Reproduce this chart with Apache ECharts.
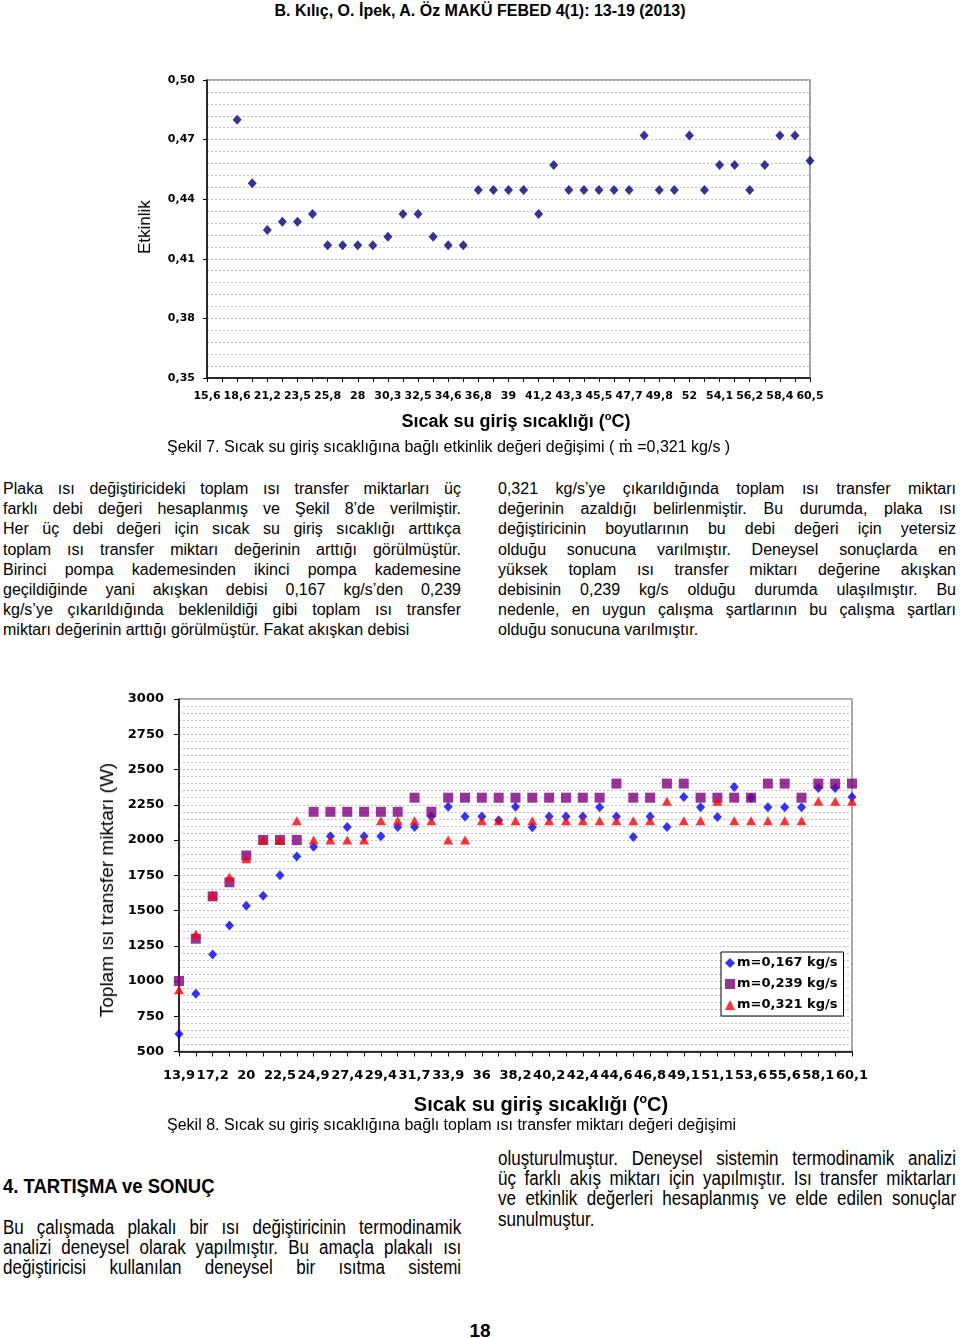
<!DOCTYPE html>
<html><head><meta charset="utf-8">
<script src="https://cdn.jsdelivr.net/npm/echarts@6/dist/echarts.min.js"></script>
<style>
html,body{margin:0;padding:0;background:#fff;}
#page{position:relative;width:960px;height:1338px;overflow:hidden;font-family:'Liberation Sans',Arial,sans-serif;color:#000;background:#fff;}
.abs{position:absolute;}
.c{transform:translate(-50%,-50%);white-space:nowrap;}
.r{transform:translate(-50%,-50%) rotate(-90deg);white-space:nowrap;}
.hdr{font-weight:bold;font-size:16px;}
.cap{font-size:16px;white-space:nowrap;line-height:18px;}
.col{width:458px;font-size:16px;line-height:20.2px;}
.col div{text-align:justify;text-align-last:justify;}
.col div.l{text-align:left;text-align-last:left;}
.nar{transform-origin:left top;transform:scaleX(0.85);}
.col.nar{width:539px;font-size:20px;line-height:20.2px;}
sup{font-size:62%;vertical-align:top;position:relative;top:-1px;}
</style>
</head><body>
<div id="page">
  <div class="abs c hdr" style="left:480px;top:11px;">B. Kılıç, O. İpek, A. Öz MAKÜ FEBED 4(1): 13-19 (2013)</div>

  <div id="chart1" class="abs" style="left:0;top:40px;width:960px;height:400px;"></div>
  <div class="abs r" style="left:145px;top:227px;font-size:17px;">Etkinlik</div>
  <div class="abs c" style="left:516px;top:421px;font-size:18px;font-weight:bold;">Sıcak su giriş sıcaklığı (<sup>o</sup>C)</div>
  <div class="abs cap" style="left:167px;top:437px;">Şekil 7. Sıcak su giriş sıcaklığına bağlı etkinlik değeri değişimi ( <span style="font-family:'Liberation Serif',serif;font-size:18px;">ṁ</span> =0,321 kg/s )</div>

  <div class="abs col" style="left:3px;top:479px;">
    <div>Plaka ısı değiştiricideki toplam ısı transfer miktarları üç</div>
    <div>farklı debi değeri hesaplanmış ve Şekil 8’de verilmiştir.</div>
    <div>Her üç debi değeri için sıcak su giriş sıcaklığı arttıkça</div>
    <div>toplam ısı transfer miktarı değerinin arttığı görülmüştür.</div>
    <div>Birinci pompa kademesinden ikinci pompa kademesine</div>
    <div>geçildiğinde yani akışkan debisi 0,167 kg/s’den 0,239</div>
    <div>kg/s’ye çıkarıldığında beklenildiği gibi toplam ısı transfer</div>
    <div class="l">miktarı değerinin arttığı görülmüştür. Fakat akışkan debisi</div>
  </div>
  <div class="abs col" style="left:498px;top:479px;">
    <div>0,321 kg/s’ye çıkarıldığında toplam ısı transfer miktarı</div>
    <div>değerinin azaldığı belirlenmiştir. Bu durumda, plaka ısı</div>
    <div>değiştiricinin boyutlarının bu debi değeri için yetersiz</div>
    <div>olduğu sonucuna varılmıştır. Deneysel sonuçlarda en</div>
    <div>yüksek toplam ısı transfer miktarı değerine akışkan</div>
    <div>debisinin 0,239 kg/s olduğu durumda ulaşılmıştır. Bu</div>
    <div>nedenle, en uygun çalışma şartlarının bu çalışma şartları</div>
    <div class="l">olduğu sonucuna varılmıştır.</div>
  </div>

  <div id="chart2" class="abs" style="left:0;top:670px;width:960px;height:450px;"></div>
  <div class="abs r" style="left:107px;top:890px;font-size:19px;">Toplam ısı transfer miktarı (W)</div>
  <div class="abs c" style="left:541px;top:1104px;font-size:20px;font-weight:bold;">Sıcak su giriş sıcaklığı (<sup>o</sup>C)</div>
  <div class="abs cap" style="left:167px;top:1116px;">Şekil 8. Sıcak su giriş sıcaklığına bağlı toplam ısı transfer miktarı değeri değişimi</div>

  <div class="abs nar" style="left:3px;top:1175px;font-size:21px;font-weight:bold;line-height:22px;white-space:nowrap;transform:scaleX(0.88);">4. TARTIŞMA ve SONUÇ</div>
  <div class="abs col nar" style="left:3px;top:1217px;">
    <div>Bu çalışmada plakalı bir ısı değiştiricinin termodinamik</div>
    <div>analizi deneysel olarak yapılmıştır. Bu amaçla plakalı ısı</div>
    <div>değiştiricisi kullanılan deneysel bir ısıtma sistemi</div>
  </div>
  <div class="abs col nar" style="left:498px;top:1148px;">
    <div>oluşturulmuştur. Deneysel sistemin termodinamik analizi</div>
    <div>üç farklı akış miktarı için yapılmıştır. Isı transfer miktarları</div>
    <div>ve etkinlik değerleri hesaplanmış ve elde edilen sonuçlar</div>
    <div class="l">sunulmuştur.</div>
  </div>
  <div class="abs c" style="left:480px;top:1331px;font-size:19px;font-weight:bold;">18</div>
</div>
<script>
// ---------- Figure 7 data ----------
const xLabels1 = ['15,6','18,6','21,2','23,5','25,8','28','30,3','32,5','34,6','36,8','39','41,2','43,3','45,5','47,7','49,8','52','54,1','56,2','58,4','60,5'];
const effectiveness = [null, null,
  0.480, 0.448, 0.4245, 0.4287, 0.4287, 0.4326, 0.4168, 0.4168, 0.4168, 0.4168,
  0.4211, 0.4326, 0.4326, 0.4211, 0.4168, 0.4168, 0.4446, 0.4446, 0.4446, 0.4446,
  0.4326, 0.4572, 0.4446, 0.4446, 0.4446, 0.4446, 0.4446, 0.4721, 0.4446, 0.4446,
  0.4721, 0.4446, 0.4572, 0.4572, 0.4446, 0.4572, 0.4721, 0.4721, 0.4594];
const yMin1 = 0.35, yMax1 = 0.50, yStep1 = 0.03;

// ---------- Figure 8 data ----------
const xLabels2 = ['13,9','17,2','20','22,5','24,9','27,4','29,4','31,7','33,9','36','38,2','40,2','42,4','44,6','46,8','49,1','51,1','53,6','55,6','58,1','60,1'];
const heat0167 = [625, 909, 1188, 1394, 1534, 1605, 1750, 1883, 1952, 2026,
  2093, 2026, 2026, 2093, 2093, 2167, 2236, 2167, 2167, 2140,
  2236, 2090, 2167, 2167, 2167, 2233, 2167, 2021, 2167, 2093,
  2305, 2233, 2164, 2376, 2300, 2233, 2233, 2233, 2369, 2369, 2305];
const heat0239 = [1000, 1300, 1600, 1700, 1890, 2000, 2000, 2000, 2200, 2200,
  2200, 2200, 2200, 2200, 2300, 2200, 2300, 2300, 2300, 2300,
  2300, 2300, 2300, 2300, 2300, 2300, 2400, 2300, 2300, 2400,
  2400, 2300, 2300, 2300, 2300, 2400, 2400, 2300, 2400, 2400, 2400];
const heat0321 = [938, 1333, 1612, 1738, 1867, 2000, 2000, 2136, 2000, 2000,
  2000, 2000, 2136, 2136, 2136, 2136, 2000, 2000, 2136, 2136,
  2136, 2136, 2136, 2136, 2136, 2136, 2136, 2136, 2136, 2274,
  2136, 2136, 2274, 2136, 2136, 2136, 2136, 2136, 2274, 2274, 2274];
const seriesNames2 = ['m=0,167 kg/s', 'm=0,239 kg/s', 'm=0,321 kg/s'];
const yMin2 = 500, yMax2 = 3000, yStep2 = 250;

// categories: labelled value on every other tick
function buildCats(labels){
  const out = [];
  labels.forEach((l, i) => { out.push(l); if (i < labels.length - 1) out.push(''); });
  return out;
}
const cats1 = buildCats(xLabels1);
const cats2 = buildCats(xLabels2);

const gridDash = {color:'#c4c4c4', width:1, type:[2,2]};
const tickFont = (size) => ({fontFamily:'DejaVu Sans', fontWeight:'bold', fontSize:size, color:'#000'});

// ---------- Chart 1 ----------
const c1 = echarts.init(document.getElementById('chart1'), null, {renderer:'canvas'});
c1.setOption({
  animation:false,
  grid:{left:207, top:40, width:603, height:298, show:true, borderColor:'#8a8a8a', borderWidth:1.5},
  xAxis:{type:'category', data:cats1, boundaryGap:false,
    axisLine:{lineStyle:{color:'#000', width:1.5}},
    axisTick:{interval:0, length:4, lineStyle:{color:'#000'}},
    axisLabel:Object.assign({interval:1, margin:13}, tickFont(11)),
    splitLine:{show:false}},
  yAxis:{type:'value', min:0, max:yMax1 - yMin1, interval:yStep1,
    axisLine:{show:true, lineStyle:{color:'#000', width:1.5}},
    axisTick:{show:true, length:4, lineStyle:{color:'#000'}},
    axisLabel:Object.assign({margin:12, formatter:v => (v + yMin1).toFixed(2).replace('.', ',')}, tickFont(11)),
    splitLine:{show:true, lineStyle:gridDash},
    minorTick:{show:false, splitNumber:5},
    minorSplitLine:{show:true, lineStyle:gridDash}},
  series:[{type:'scatter', symbol:'diamond', symbolSize:[9,10],
    itemStyle:{color:'#000080'},
    data:effectiveness.map(v => v == null ? '-' : +(v - yMin1).toFixed(5))}]
});

// ---------- Chart 2 ----------
const c2 = echarts.init(document.getElementById('chart2'), null, {renderer:'canvas'});
c2.setOption({
  animation:false,
  grid:{left:179, top:29, width:673, height:352.5, show:true, borderColor:'#8a8a8a', borderWidth:1.5},
  legend:{orient:'vertical', left:721, top:282, itemWidth:10, itemHeight:10, itemGap:5,
    padding:[3,6,3,4], borderColor:'#000', borderWidth:1, backgroundColor:'#fff',
    textStyle:Object.assign({lineHeight:16, padding:[0,0,0,-3]}, tickFont(13)),
    data:[{name:seriesNames2[0], icon:'diamond'},{name:seriesNames2[1], icon:'rect'},{name:seriesNames2[2], icon:'triangle'}]},
  xAxis:{type:'category', data:cats2, boundaryGap:false,
    axisLine:{lineStyle:{color:'#000', width:1.5}},
    axisTick:{interval:0, length:5, lineStyle:{color:'#000'}},
    axisLabel:Object.assign({interval:1, margin:18}, tickFont(13)),
    splitLine:{show:false}},
  yAxis:{type:'value', min:yMin2, max:yMax2, interval:yStep2,
    axisLine:{show:true, lineStyle:{color:'#000', width:1.5}},
    axisTick:{show:true, length:5, lineStyle:{color:'#000'}},
    axisLabel:Object.assign({margin:15, formatter:v => String(v)}, tickFont(13)),
    splitLine:{show:true, lineStyle:gridDash},
    minorTick:{show:false, splitNumber:5},
    minorSplitLine:{show:true, lineStyle:gridDash}},
  series:[
    {name:seriesNames2[0], type:'scatter', symbol:'diamond', symbolSize:[9,10], itemStyle:{color:'#0000ff'}, data:heat0167},
    {name:seriesNames2[1], type:'scatter', symbol:'rect', symbolSize:10, itemStyle:{color:'#800080'}, data:heat0239},
    {name:seriesNames2[2], type:'scatter', symbol:'triangle', symbolSize:[10,9], itemStyle:{color:'#ff0000'}, data:heat0321}
  ]
});
</script>
</body></html>
